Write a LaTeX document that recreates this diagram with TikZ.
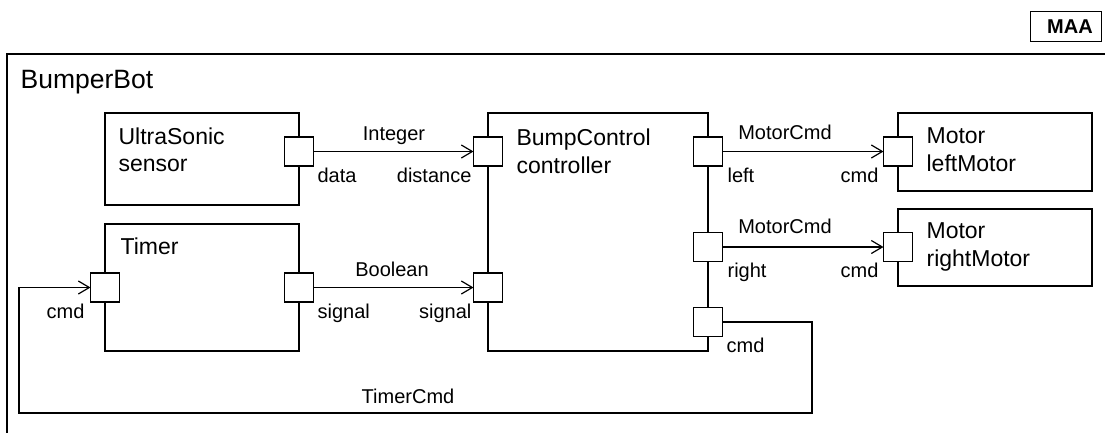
\documentclass[tikz,border=0pt]{standalone}
\usepackage{fontspec}
\setmainfont{Liberation Sans}
\usetikzlibrary{arrows.meta}
\begin{document}
\begin{tikzpicture}[x=1pt,y=-1pt,line width=1.2pt,
  blk/.style={draw,rectangle,anchor=north west,inner sep=0pt,outer sep=0pt},
  port/.style={draw,rectangle,fill=white,inner sep=0pt,outer sep=0pt,minimum width=29pt,minimum height=29pt},
  lbl/.style={inner sep=0pt,font=\fontsize{20}{24}\selectfont},
  ttl/.style={inner sep=0pt,anchor=base west,font=\fontsize{23}{27}\selectfont},
  arr/.style={-{Straight Barb[length=11pt,width=13pt,line width=1.2pt]}}]
\useasboundingbox (0,0) rectangle (1105,432);
\clip (0,0) rectangle (1105,432);
% frame
\draw (7,445) -- (7,54) -- (1115,54);
\node[draw,rectangle,anchor=north west,minimum width=71pt,minimum height=30pt,inner sep=0pt] (maa) at (1030,11) {};
\node[lbl,anchor=base,font=\fontsize{20}{24}\selectfont\bfseries] (maat) at (1070,33) {MAA};
\node[inner sep=0pt,anchor=base west,font=\fontsize{26.5}{30}\selectfont] (bb) at (20,88) {BumperBot};
% blocks
\node[blk,minimum width=194pt,minimum height=92pt] (us) at (105,113) {};
\node[blk,minimum width=194pt,minimum height=127pt] (tm) at (105,224) {};
\node[blk,minimum width=220pt,minimum height=238pt] (bc) at (488,113) {};
\node[blk,minimum width=194pt,minimum height=78pt] (lm) at (898,113) {};
\node[blk,minimum width=194pt,minimum height=77pt] (rm) at (898,209) {};
% titles
\node[ttl] (ust1) at (118,144) {UltraSonic};
\node[ttl] (ust2) at (118,171) {sensor};
\node[ttl] (tmt) at (120,254) {Timer};
\node[ttl] (bct1) at (516,145) {BumpControl};
\node[ttl] (bct2) at (516,173) {controller};
\node[ttl] (lmt1) at (926,143) {Motor};
\node[ttl] (lmt2) at (926,171) {leftMotor};
\node[ttl] (rmt1) at (926,238) {Motor};
\node[ttl] (rmt2) at (926,266) {rightMotor};
% ports
\node[port] (usp) at (299,151.5) {};
\node[port] (bcd) at (488,151.5) {};
\node[port] (bcs) at (488,287.5) {};
\node[port] (tms) at (299,287.5) {};
\node[port] (tmc) at (105,287.5) {};
\node[port] (bcl) at (708,151.5) {};
\node[port] (bcr) at (708,247) {};
\node[port] (bcc) at (708,322) {};
\node[port] (lmc) at (898,151.5) {};
\node[port] (rmc) at (898,247) {};
% connectors
\coordinate (c1) at (812,413);
\coordinate (c2) at (19,413);
\draw[arr] (usp.east) -- (bcd.west);
\draw[arr] (tms.east) -- (bcs.west);
\draw[arr] (bcl.east) -- (lmc.west);
\draw[arr] (bcr.east) -- (rmc.west);
\draw[arr] (bcc.east) -| (c1) -- (c2) |- (tmc.west);
% labels
\node[lbl,anchor=base] (l1) at (394,140) {Integer};
\node[lbl,anchor=base west] (l2) at (317,182) {data};
\node[lbl,anchor=base east] (l3) at (472,182) {distance};
\node[lbl,anchor=base] (l4) at (785,139) {MotorCmd};
\node[lbl,anchor=base west] (l5) at (727,182) {left};
\node[lbl,anchor=base east] (l6) at (879,182) {cmd};
\node[lbl,anchor=base] (l7) at (785,233) {MotorCmd};
\node[lbl,anchor=base west] (l8) at (727,277) {right};
\node[lbl,anchor=base east] (l9) at (879,277) {cmd};
\node[lbl,anchor=base] (l10) at (392,276) {Boolean};
\node[lbl,anchor=base west] (l11) at (317,318) {signal};
\node[lbl,anchor=base east] (l12) at (472,318) {signal};
\node[lbl,anchor=base east] (l13) at (85,318) {cmd};
\node[lbl,anchor=base west] (l14) at (726,352) {cmd};
\node[lbl,anchor=base] (l15) at (408,403) {TimerCmd};
\end{tikzpicture}
\end{document}
